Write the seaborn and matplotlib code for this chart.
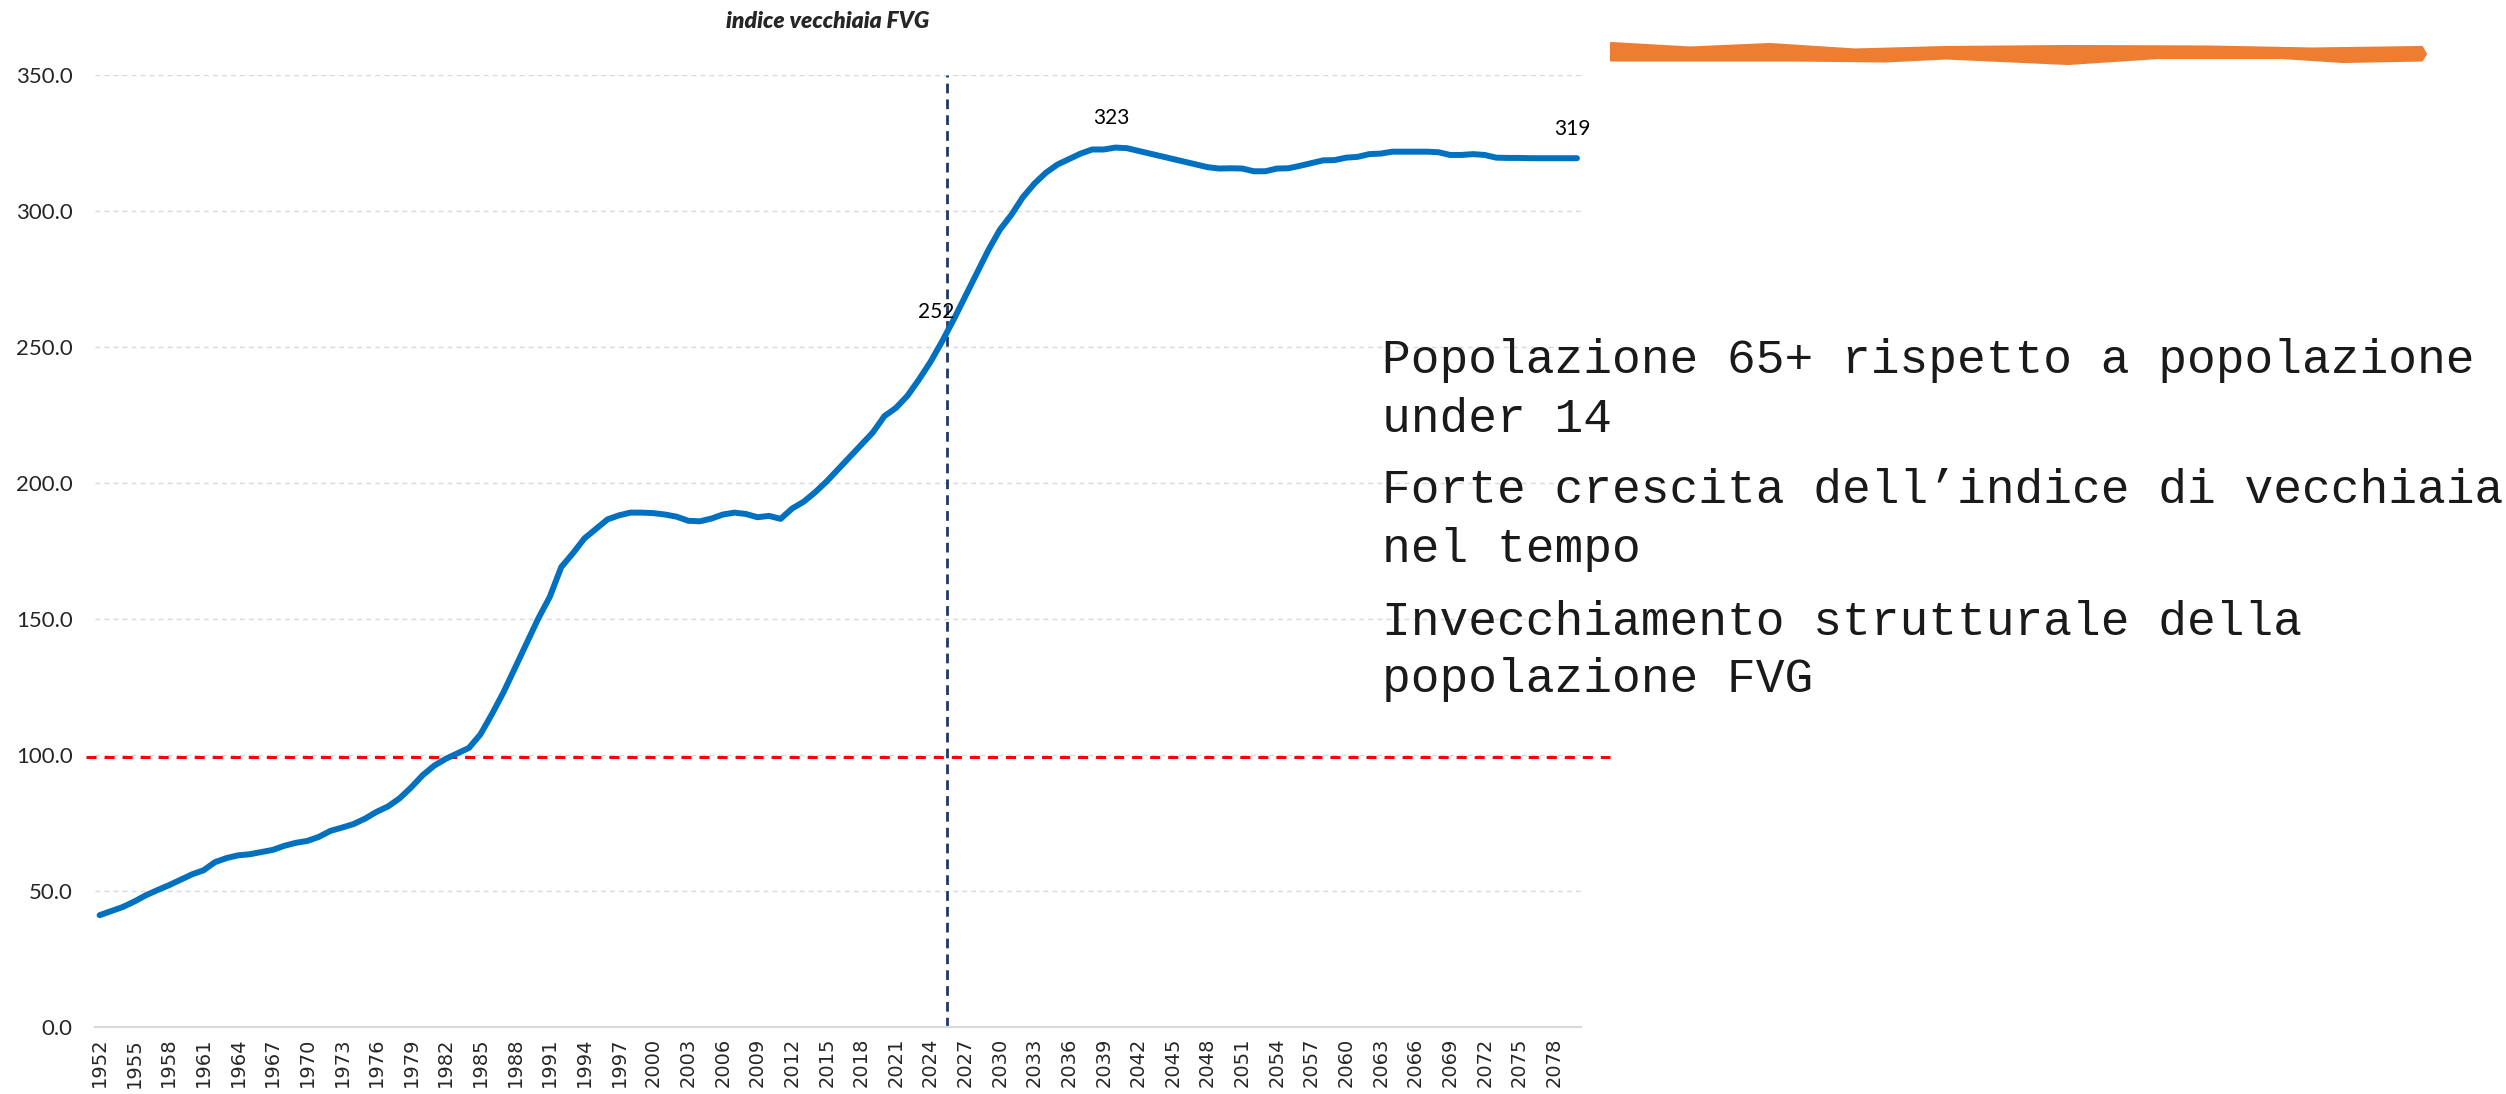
import numpy as np
import pandas as pd
import seaborn as sns
import matplotlib.pyplot as plt
from matplotlib.patches import Polygon

# indice di vecchiaia FVG, anni 1952-2080 (storico + previsioni)
years = list(range(1952, 2081))
index_values = [
    41.0, 42.5, 44.0, 46.0, 48.3, 50.2, 52.0, 54.0, 56.0, 57.5,
    60.5, 62.0, 63.0, 63.4, 64.2, 65.0, 66.5, 67.6, 68.3, 69.8,
    72.0, 73.2, 74.5, 76.5, 79.0, 81.0, 84.0, 88.0, 92.5, 96.0,
    98.5, 100.5, 102.5, 107.5, 115.0, 123.0, 132.0, 141.0, 150.0, 158.0,
    169.0, 174.0, 179.5, 183.0, 186.5, 188.0, 189.0, 189.0, 188.8, 188.3,
    187.5, 186.0, 185.8, 186.8, 188.3, 189.0, 188.5, 187.3, 187.8, 186.7,
    190.5, 193.0, 196.5, 200.5, 205.0, 209.5, 214.0, 218.5, 224.5, 227.5,
    232.0, 238.0, 244.5, 252.0, 260.0, 268.5, 277.0, 285.5, 293.0, 298.5,
    305.0, 310.0, 314.0, 317.0, 319.0, 321.0, 322.5, 322.5, 323.2, 323.0,
    322.0, 321.0, 320.0, 319.0, 318.0, 317.0, 316.0, 315.5, 315.6, 315.5,
    314.5, 314.5, 315.5, 315.6, 316.5, 317.5, 318.5, 318.6, 319.5, 319.8,
    320.8, 321.0, 321.7, 321.7, 321.7, 321.7, 321.5, 320.5, 320.5, 320.8,
    320.5, 319.5, 319.4, 319.4, 319.3, 319.3, 319.3, 319.3, 319.3,
]
tick_years = list(range(1952, 2079, 3))
y_ticks = [0, 50, 100, 150, 200, 250, 300, 350]

# punti etichettati sul grafico
labelled = {2025: "252", 2040: "323", 2080: "319"}
current_year = 2025
threshold = 99.3

notes = [
    ["Popolazione 65+ rispetto a popolazione", "under 14"],
    ["Forte crescita dell\u2019indice di vecchiaia", "nel tempo"],
    ["Invecchiamento strutturale della", "popolazione FVG"],
]

df = pd.DataFrame({"anno": years, "indice": index_values})

sns.set_style("white")
plt.rcParams["font.family"] = ["Lato", "DejaVu Sans"]

W, H = 2506, 1094
fig = plt.figure(figsize=(W / 100, H / 100), dpi=100)
ax = fig.add_axes([95 / W, 1 - 1026.7 / H, 1486 / W, 952 / H])

sns.lineplot(data=df, x="anno", y="indice", ax=ax, color="#0070C0",
             linewidth=4.3, solid_capstyle="round")

ax.set_xlim(1951.6, 2080.35)
ax.set_ylim(0, 350)

# griglia orizzontale tratteggiata
for v in y_ticks[1:]:
    ax.axhline(v, color="#d9d9d9", linewidth=1.0, linestyle=(0, (3.5, 3)), zorder=0)

ax.axhline(threshold, xmin=-0.006, xmax=1.0195, color="#ff0000", linewidth=2.2,
           linestyle=(0, (3.3, 2.6)), clip_on=False, zorder=1)
# linea dell'anno corrente (disegnata a metà fra 2025 e 2026 come nell'originale)
ax.axvline(current_year + 0.4, ymin=0, ymax=1, color="#1f3864", linewidth=2.0,
           linestyle=(0, (3.5, 2.2)), zorder=1)

for yr, txt in labelled.items():
    val = index_values[years.index(yr)]
    dx = -4 if yr == current_year else -3
    ax.annotate(txt, (yr, val), xytext=(dx, 21), textcoords="offset points",
                ha="center", va="center", fontsize=15, color="black")

ax.set_yticks(y_ticks)
ax.set_yticklabels([f"{v:.1f}" for v in y_ticks], fontsize=16)
ax.set_xticks(tick_years)
ax.set_xticklabels([str(t) for t in tick_years], rotation=90, fontsize=14,
                   fontfamily="DejaVu Sans")
ax.tick_params(axis="y", length=0, pad=16)
ax.tick_params(axis="x", length=0, pad=8)
ax.set_xlabel("")
ax.set_ylabel("")

for side in ["top", "right", "left"]:
    ax.spines[side].set_visible(False)
ax.spines["bottom"].set_color("#d9d9d9")
ax.spines["bottom"].set_linewidth(1.6)

fig.text(828 / W, 1 - 22 / H, "indice vecchiaia FVG", ha="center", va="center",
         fontsize=16.5, fontweight="heavy", fontstyle="italic")

# note a destra
baselines = [[373, 432], [503, 562], [635, 692]]
for para, ys in zip(notes, baselines):
    for line, yb in zip(para, ys):
        fig.text(1382 / W, 1 - yb / H, line, ha="left", va="baseline",
                 fontsize=34.5, fontfamily="Liberation Mono", color="#1a1a1a")

# pennellata arancione in alto a destra
top_edge = [(1611, 43), (1690, 47.5), (1770, 44), (1855, 49.5), (1946, 47),
            (2068, 46), (2209, 46.5), (2312, 48.5), (2422, 47)]
bottom_edge = [(2426, 54), (2422, 60.5), (2343, 62), (2282, 58), (2159, 58),
               (2068, 64), (1946, 58.5), (1885, 61.5), (1794, 60.5), (1611, 60.5)]
pts = [(x / W, 1 - y / H) for x, y in top_edge + bottom_edge]
fig.patches.append(Polygon(pts, closed=True, transform=fig.transFigure,
                           facecolor="#ED7D31", edgecolor="#ED7D31", linewidth=1.5,
                           joinstyle="round"))

fig.savefig("out.png", dpi=100)
